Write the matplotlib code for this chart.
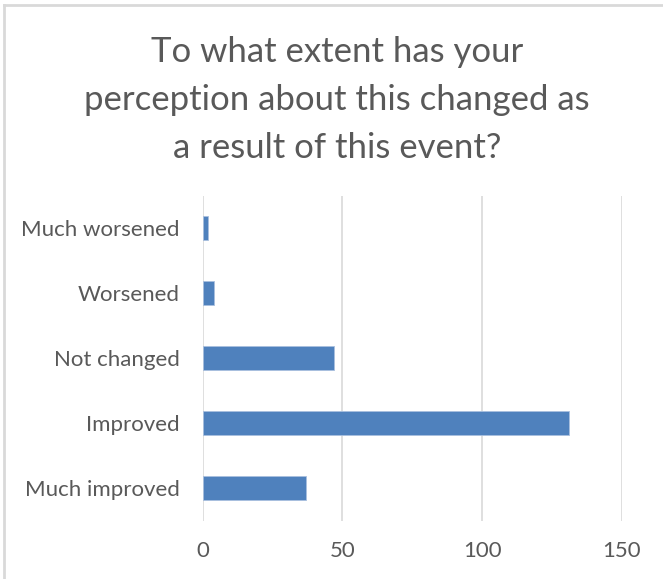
import matplotlib
matplotlib.use("Agg")
import matplotlib.pyplot as plt
from matplotlib.lines import Line2D

categories = ["Much improved", "Improved", "Not changed", "Worsened", "Much worsened"]
values = [37, 131, 47, 4, 2]
xticks = [0, 50, 100, 150]
title = "To what extent has your\nperception about this changed as\na result of this event?"

W, H = 663, 579
fig = plt.figure(figsize=(W / 100, H / 100), dpi=100)
plt.rcParams['font.family'] = ['Lato', 'DejaVu Sans']
txt = '#595959'
grid = '#d9d9d9'

ax = fig.add_axes([202.7 / W, 1 - 520.5 / H, (621.8 - 202.7) / W, (520.5 - 195.5) / H])
ax.barh(range(len(categories)), values, height=0.355, color='#4f81bd',
        edgecolor='#a9c0df', linewidth=0.6, zorder=3)
ax.set_xlim(0, 150)
ax.set_ylim(-0.5, len(categories) - 0.5)
ax.set_xticks(xticks)
ax.set_xticklabels([str(t) for t in xticks])
ax.set_yticks(range(len(categories)))
ax.set_yticklabels(categories)
ax.grid(axis='x', color=grid, linewidth=1.2, zorder=0)
ax.tick_params(axis='both', length=0, labelsize=16, colors=txt)
ax.tick_params(axis='x', pad=15)
ax.tick_params(axis='y', pad=16.5)
for s in ax.spines.values():
    s.set_visible(False)

fig.text(337 / W, 1 - 100 / H, title, ha='center', va='center', fontsize=25,
         color=txt, linespacing=1.6)

fig.add_artist(Line2D([4 / W, 4 / W], [0, 1 - 5 / H], transform=fig.transFigure, color=grid, linewidth=2))
fig.add_artist(Line2D([4 / W, 1], [1 - 5 / H, 1 - 5 / H], transform=fig.transFigure, color=grid, linewidth=2))

fig.savefig("out.png", dpi=100)
